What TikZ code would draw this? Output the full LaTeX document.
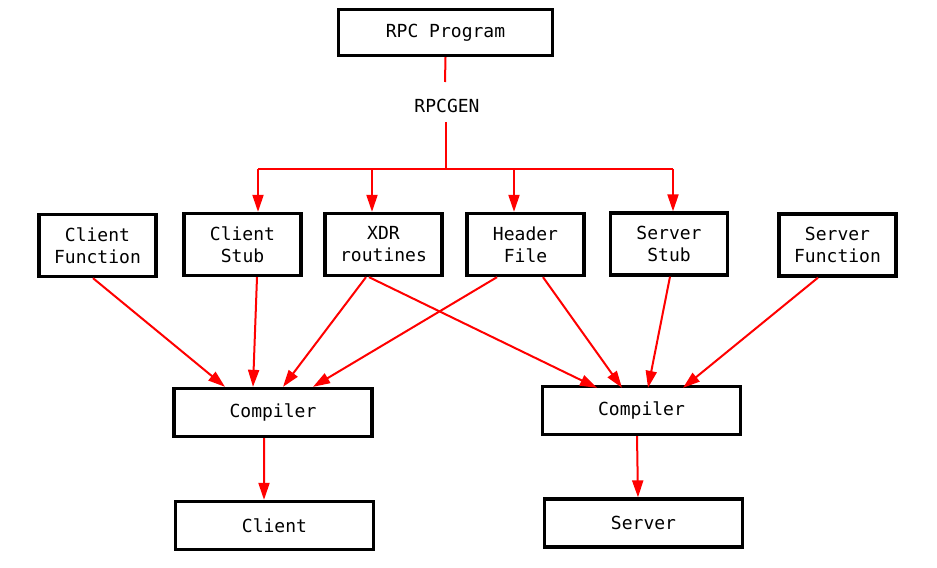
\documentclass[tikz,border=0pt]{standalone}
\usepackage{fontspec}
\setmonofont{DejaVu Sans Mono}
\usepackage{tikz}
\usetikzlibrary{arrows.meta}

\begin{document}
\begin{tikzpicture}[x=1bp, y=-1bp,
		font=\ttfamily\fontsize{18bp}{22bp}\selectfont,
		box/.style={draw, line width=3.3bp, align=center, minimum width=117bp, minimum height=62bp, inner sep=0pt},
		widebox/.style={box, minimum width=198bp, minimum height=48bp},
		flow/.style={draw=red, line width=2bp},
		flowarrow/.style={flow, -{Triangle[length=17bp, width=11bp]}}]
		\useasboundingbox (0,0) rectangle (937,568);
		
		\node[box, minimum width=214bp, minimum height=46bp] (prog) at (445.5,32.5) {RPC Program};
		\node (rpcgen) at (447,106) {RPCGEN};
		\coordinate (gtop) at (445,82);
		\coordinate (gbot) at (446,122);
		\coordinate (split) at (446,169);
		
		\node[box] (cfun) at (97.5,245.5) {Client\\Function};
		\node[box] (cstub) at (242.5,244.5) {Client\\Stub};
		\node[box] (xdr) at (383.5,244.5) {XDR\\routines};
		\node[box] (hdr) at (525.5,244.5) {Header\\File};
		\node[box] (sstub) at (669,244) {Server\\Stub};
		\node[box] (sfun) at (837.5,245) {Server\\Function};
		
		\node[widebox] (ccomp) at (273,412.5) {Compiler};
		\node[widebox] (scomp) at (641.5,410.5) {Compiler};
		\node[widebox] (client) at (274.5,525.5) {Client};
		\node[widebox] (server) at (643.5,523) {Server};
		
		% rpcgen fans out
		\coordinate (b1) at (258,169);
		\coordinate (b2) at (372,169);
		\coordinate (b3) at (514,169);
		\coordinate (b4) at (673,169);
		\draw[flow] (prog.south) -- (gtop);
		\draw[flow] (gbot) -- (split);
		\draw[flow] (b1) -- (b4);
		\draw[flowarrow] (b1) -- (b1 |- cstub.north);
		\draw[flowarrow] (b2) -- (b2 |- xdr.north);
		\draw[flowarrow] (b3) -- (b3 |- hdr.north);
		\draw[flowarrow] (b4) -- (b4 |- sstub.north);
		
		% client side
		\draw[flowarrow] ([xshift=-4.5bp]cfun.south) -- ([xshift=-48bp]ccomp.north);
		\draw[flowarrow] ([xshift=14.5bp]cstub.south) -- ([xshift=-20bp]ccomp.north);
		\draw[flowarrow] ([xshift=-17.5bp]xdr.south) -- ([xshift=10bp]ccomp.north);
		\draw[flowarrow] ([xshift=-28.5bp]hdr.south) -- ([xshift=40bp]ccomp.north);
		\draw[flowarrow] ([xshift=-9bp]ccomp.south) -- ([xshift=-10.5bp]client.north);
		
		% server side
		\draw[flowarrow] ([xshift=-14.5bp]xdr.south) -- ([xshift=-44.5bp,yshift=-3bp]scomp.north);
		\draw[flowarrow] ([xshift=17.5bp]hdr.south) -- ([xshift=-19.5bp,yshift=-3bp]scomp.north);
		\draw[flowarrow] ([xshift=1bp]sstub.south) -- ([xshift=6.5bp,yshift=-3bp]scomp.north);
		\draw[flowarrow] ([xshift=-19.5bp]sfun.south) -- ([xshift=41.5bp,yshift=-3bp]scomp.north);
		\draw[flowarrow] ([xshift=-4.5bp]scomp.south) -- ([xshift=-5.5bp]server.north);
\end{tikzpicture}
\end{document}
